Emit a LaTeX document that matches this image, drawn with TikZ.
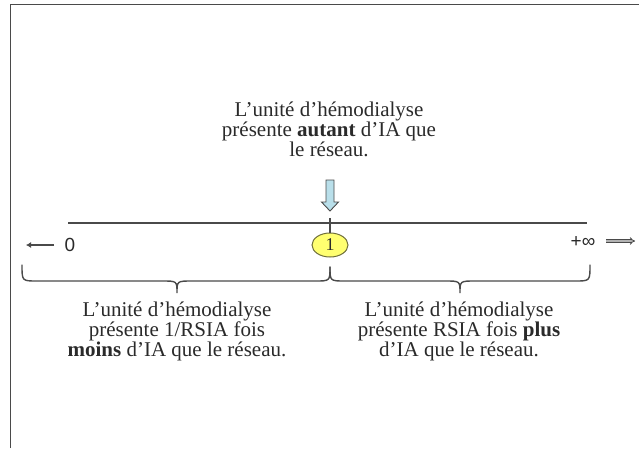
\documentclass[tikz,border=0pt]{standalone}
\usepackage{fontspec}
\setmainfont{Liberation Serif}
\newfontfamily\labsans{Liberation Sans}
\usetikzlibrary{shapes.geometric,arrows.meta}
\definecolor{ink}{HTML}{2A2A2A}
\definecolor{frame}{HTML}{4A4A4A}
\definecolor{arrowblue}{HTML}{B9DFEA}
\definecolor{oneyellow}{HTML}{FFFF70}
\definecolor{oneedge}{HTML}{6E6E3A}
\tikzset{
  txt/.style={align=center, anchor=north, inner sep=0pt, text=ink,
              font=\fontsize{21}{19}\selectfont},
  axisline/.style={draw=frame, line width=1.4pt},
  bracepath/.style={draw=frame, line width=1.4pt, line cap=round},
  lbl/.style={inner sep=0pt, text=ink, font=\labsans\fontsize{19}{19}\selectfont}
}
\begin{document}
\begin{tikzpicture}[x=1pt,y=-1pt]
\useasboundingbox (0,0) rectangle (639,448);
% frame
\draw[frame, line width=1.6pt] (10.5,448) -- (10.5,4.5) -- (639,4.5);
% top text
\node[txt] (top) at (329,101.4) {L’unité d’hémodialyse\\présente \textbf{autant} d’IA que\\le réseau.};
% hollow arrow
\draw[fill=arrowblue, draw=frame, line width=0.9pt]
  (326,180) -- (334,180) -- (334,202) -- (338.5,202) -- (330,211) -- (321.5,202) -- (326,202) -- cycle;
% axis
\coordinate (axL) at (68,223);
\coordinate (axR) at (587,223);
\draw[axisline] (axL) -- (axR);
\node[ellipse, draw=oneedge, fill=oneyellow, line width=1pt, minimum width=36pt, minimum height=24pt, inner sep=0pt,
      font=\fontsize{18}{18}\selectfont, text=ink] (one) at (330,245) {1};
\coordinate (tick) at (330,218);
\draw[frame, line width=1.2pt] (tick) -- (one.north);
% zero and infinity
\node[lbl] (zero) at (70,245) {0};
\coordinate (la) at (54,245);
\coordinate (lb) at (26,245);
\draw[frame, line width=1.6pt, -{Latex[length=5pt,width=6pt]}] (la) -- (lb);
\node[lbl] (inf) at (583,242) {+∞};
\coordinate (ra) at (606,241);
\coordinate (rb) at (635,241);
\draw[frame, line width=0.9pt, double=gray!60, double distance=1.6pt, -{Implies}] (ra) -- (rb);
% braces
\draw[bracepath] (22,265) .. controls (22,281) .. (37,281) -- (162,281)
  .. controls (177,281) .. (177,293) .. controls (177,281) .. (192,281) -- (315,281)
  .. controls (330,281) .. (330,267);
\draw[bracepath] (330,267) .. controls (330,281) .. (345,281) -- (445,281)
  .. controls (460,281) .. (460,293) .. controls (460,281) .. (475,281) -- (575,281)
  .. controls (590,281) .. (590,265);
% bottom texts
\node[txt] (left) at (177,301.4) {L’unité d’hémodialyse\\présente 1/RSIA fois\\\textbf{moins} d’IA que le réseau.};
\node[txt] (right) at (459,301.4) {L’unité d’hémodialyse\\présente RSIA fois \textbf{plus}\\d’IA que le réseau.};
\end{tikzpicture}
\end{document}
